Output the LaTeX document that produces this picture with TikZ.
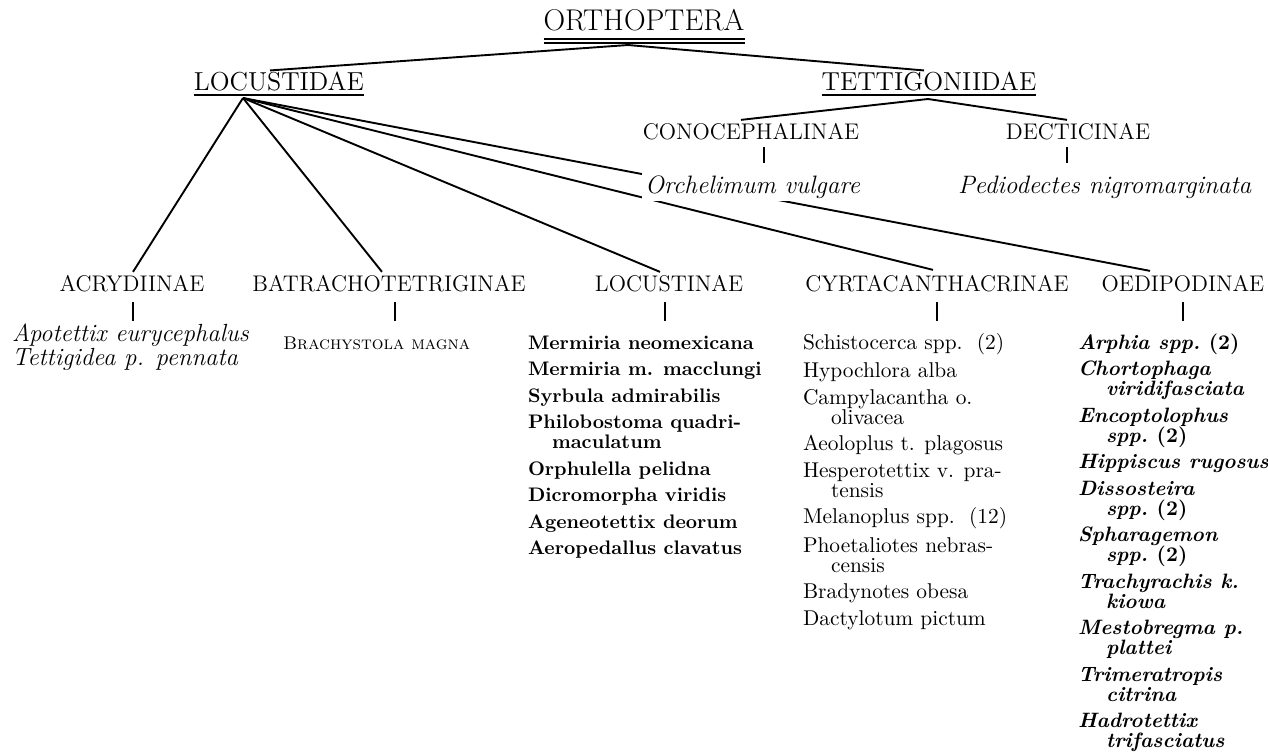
\documentclass[tikz,border=0pt]{standalone}
\usepackage{fontspec}
\newcommand\entgap{\\[3.25pt]}
\newcommand\contline{\\\hspace*{14pt}}
\begin{document}
\begin{tikzpicture}[x=0.5pt,y=-0.5pt,
  lbl/.style={inner sep=0pt, outer sep=0pt, anchor=base},
  fam/.style={lbl, font=\fontsize{13}{15}\selectfont},
  sub/.style={lbl, font=\fontsize{11.3}{13}\selectfont},
  spn/.style={inner sep=0pt, outer sep=0pt, anchor=base west, font=\fontsize{12.6}{15}\selectfont\itshape},
  lst/.style={inner sep=0pt, outer sep=0pt, anchor=base west},
  conn/.style={line width=0.95pt},
  tick/.style={line width=0.95pt},
  rule/.style={line width=0.95pt}]
\useasboundingbox (0,0) rectangle (1268,752);

% title
\node[lbl, font=\fontsize{15}{18}\selectfont] (orth) at (644,30) {ORTHOPTERA};
\draw[rule] ([shift={(0,9)}]orth.base west) -- ([shift={(0,9)}]orth.base east);
\draw[rule] ([shift={(0,13)}]orth.base west) -- ([shift={(0,13)}]orth.base east);

% families
\node[fam] (locu) at (279,90) {LOCUSTIDAE};
\draw[rule] ([shift={(0,5)}]locu.base west) -- ([shift={(0,5)}]locu.base east);
\node[fam] (tett) at (929,90) {TETTIGONIIDAE};
\draw[rule] ([shift={(0,5)}]tett.base west) -- ([shift={(0,5)}]tett.base east);

\coordinate (oA) at ([shift={(-16,15)}]orth.base);
\coordinate (lhub) at ([shift={(-36,8)}]locu.base);
\coordinate (thub) at ([shift={(-1,9)}]tett.base);

\draw[conn] (oA) -- ([shift={(-9,-1)}]locu.north);
\draw[conn] (oA) -- ([shift={(-5,-1)}]tett.north);

% Tettigoniidae subfamilies
\node[sub] (cono) at (751,139) {CONOCEPHALINAE};
\node[sub] (deci) at (1078,139) {DECTICINAE};
\draw[conn] (thub) -- ([shift={(-10,-3)}]cono.north);
\draw[conn] (thub) -- ([shift={(-11,-3)}]deci.north);
\draw[tick] ([shift={(13,8)}]cono.base) -- ++(0,16);
\draw[tick] ([shift={(-11,8)}]deci.base) -- ++(0,16);

% Locustidae subfamilies
\node[sub] (acry) at (132,291) {ACRYDIINAE};
\node[sub] (batr) at (389,291) {BATRACHOTETRIGINAE};
\node[sub] (locn) at (669,291) {LOCUSTINAE};
\node[sub] (cyrt) at (937,291) {CYRTACANTHACRINAE};
\node[sub] (oedi) at (1183,291) {OEDIPODINAE};

\draw[conn] (lhub) -- ([shift={(1,-3)}]acry.north);
\draw[conn] (lhub) -- ([shift={(-7,-3)}]batr.north);
\draw[conn] (lhub) -- ([shift={(-9,-3)}]locn.north);
\draw[conn] (lhub) -- ([shift={(-4,-5)}]cyrt.north);
\draw[conn] (lhub) -- ([shift={(-33,-4)}]oedi.north);

% species of Tettigoniidae (Orchelimum drawn over the line)
\node[spn, fill=white, inner sep=1.5pt] (orch) at (642,193) {Orchelimum vulgare};
\node[spn] (pedi) at (958,193) {Pediodectes nigromarginata};

% ticks below subfamilies
\draw[tick] ([shift={(1,11)}]acry.base) -- ++(0,19);
\draw[tick] ([shift={(6,11)}]batr.base) -- ++(0,19);
\draw[tick] ([shift={(-4,11)}]locn.base) -- ++(0,19);
\draw[tick] ([shift={(0,11)}]cyrt.base) -- ++(0,19);
\draw[tick] ([shift={(0,11)}]oedi.base) -- ++(0,19);

% lists
\node[lst] (acryl) at (12,341) {\parbox[t]{140pt}{\raggedright\fontsize{12.4}{9}\itshape\selectfont
Apotettix eurycephalus\\
Tettigidea p. pennata}};

\node[lst] (batrl) at (283,349) {\parbox[t]{130pt}{\raggedright\fontsize{9.2}{10}\scshape\selectfont
Brachystola magna}};

\node[lst] (locnl) at (528,349) {\parbox[t]{130pt}{\raggedright\fontsize{9.8}{10}\bfseries\selectfont
Mermiria neomexicana\entgap
Mermiria m. macclungi\entgap
Syrbula admirabilis\entgap
Philobostoma quadri-\\\hspace*{12pt}maculatum\entgap
Orphulella pelidna\entgap
Dicromorpha viridis\entgap
Ageneotettix deorum\entgap
Aeropedallus clavatus}};

\node[lst] (cyrtl) at (803,349) {\parbox[t]{130pt}{\raggedright\fontsize{10.7}{10}\selectfont
Schistocerca spp.\ \ (2)\entgap
Hypochlora alba\entgap
Campylacantha o.\contline olivacea\entgap
Aeoloplus t. plagosus\entgap
Hesperotettix v. pra-\contline tensis\entgap
Melanoplus spp.\ \ (12)\entgap
Phoetaliotes nebras-\contline censis\entgap
Bradynotes obesa\entgap
Dactylotum pictum}};

\node[lst] (oedil) at (1078,349) {\parbox[t]{130pt}{\raggedright\fontsize{10.4}{10}\bfseries\itshape\selectfont
Arphia spp.\ \textup{(2)}\entgap
Chortophaga\contline viridifasciata\entgap
Encoptolophus\contline spp.\ \textup{(2)}\entgap
Hippiscus rugosus\entgap
Dissosteira\contline spp.\ \textup{(2)}\entgap
Spharagemon\contline spp.\ \textup{(2)}\entgap
Trachyrachis k.\contline kiowa\entgap
Mestobregma p.\contline plattei\entgap
Trimeratropis\contline citrina\entgap
Hadrotettix\contline trifasciatus}};
\end{tikzpicture}
\end{document}
